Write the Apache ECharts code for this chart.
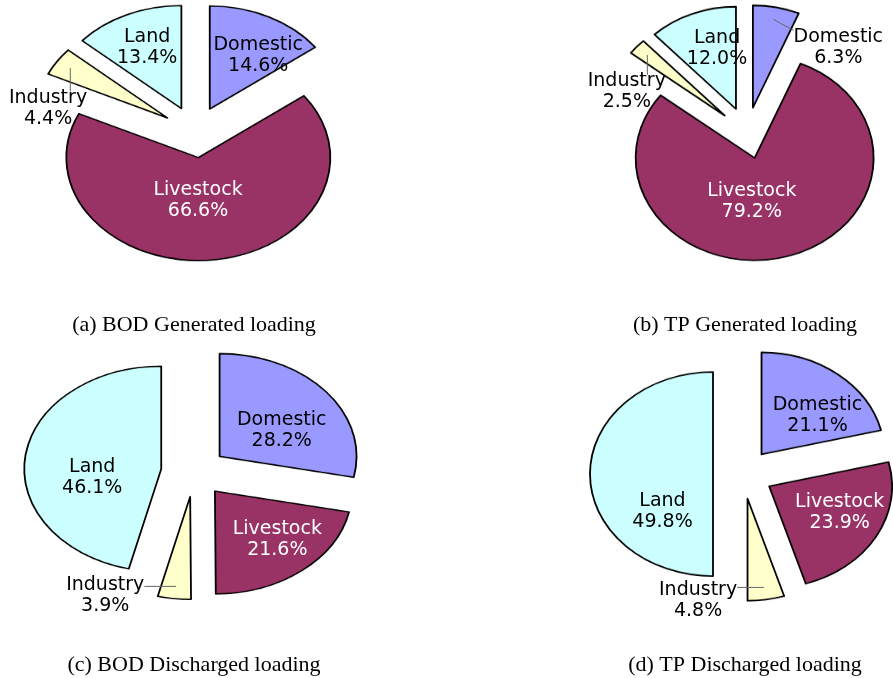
<!DOCTYPE html>
<html>
<head>
<meta charset="utf-8">
<script src="https://cdn.jsdelivr.net/npm/echarts@6/dist/echarts.min.js"></script>
<style>
    html, body { margin: 0; padding: 0; background: #fff; }
    #wrap { position: relative; width: 893px; height: 678px; overflow: hidden; }
    .slices { position: absolute; left: 0; top: 0; width: 893px; transform-origin: 0 0; }
    #labels { position: absolute; left: 0; top: 0; width: 893px; height: 678px; }
</style>
</head>
<body>
<div id="wrap"><div id="labels"></div></div>
<script>
const categories = ['Domestic', 'Livestock', 'Industry', 'Land'];
const bodGenerated = [14.6, 66.6, 4.4, 13.4];
const tpGenerated = [6.3, 79.2, 2.5, 12.0];
const bodDischarged = [28.2, 21.6, 3.9, 46.1];
const tpDischarged = [21.1, 23.9, 4.8, 49.8];
const captions = [
    '(a) BOD Generated loading',
    '(b) TP Generated loading',
    '(c) BOD Discharged loading',
    '(d) TP Discharged loading'
];

const colors = ['#9999ff', '#993366', '#ffffcc', '#ccffff'];
const labelColors = ['#000', '#fff', '#000', '#000'];

// the pies are flattened ellipses: k is the vertical squash, off the explode distance.
// nudge moves each label (same order as categories) from its computed spot to where the original put it
const pies = [
    { values: bodGenerated, cx: 195, cy: 132, r: 132, k: 0.78, off: 33, outside: ['Industry'], caption: [194, 325],
      nudge: [[19, -7], [-7, -8], [-9, 47], [-7, -14]] },
    { values: tpGenerated, cx: 747, cy: 133, r: 119, k: 0.86, off: 30, outside: ['Industry', 'Domestic'], caption: [745, 325],
      nudge: [[62, 40], [-18, -6], [-10, 45], [3, -13]] },
    { values: bodDischarged, cx: 194, cy: 472, r: 137, k: 0.75, off: 33, outside: ['Industry'], caption: [194, 665],
      nudge: [[9, 7], [19, 9], [-69, -3], [-1, 15]] },
    { values: tpDischarged, cx: 743, cy: 474, r: 123, k: 0.83, off: 30, outside: ['Industry'], caption: [745, 665],
      nudge: [[18, 1], [17, 1], [-68, 1], [11, 38]] }
];

let wrap = document.getElementById('wrap');

// slices: one chart per pie, stretched then squashed back with css
pies.forEach(function (pie) {
    let div = document.createElement('div');
    div.className = 'slices';
    div.style.height = (678 / pie.k) + 'px';
    div.style.transform = 'scaleY(' + pie.k + ')';
    wrap.insertBefore(div, document.getElementById('labels'));
    let chart = echarts.init(div);
    chart.setOption({
        animation: false,
        series: [{
            type: 'pie',
            silent: true,
            center: [pie.cx, pie.cy / pie.k],
            radius: pie.r,
            startAngle: 90,
            clockwise: true,
            selectedMode: 'multiple',
            selectedOffset: pie.off,
            label: { show: false },
            labelLine: { show: false },
            itemStyle: { borderColor: '#000', borderWidth: 1.8 },
            data: categories.map(function (name, i) {
                return { name: name, value: pie.values[i], selected: true, itemStyle: { color: colors[i] } };
            })
        }]
    });
});

// labels and captions on top, unsquashed text
function placeLabel(p) {
    let pie = pies[p.seriesIndex];
    let outside = pie.outside.indexOf(categories[p.dataIndex]) >= 0;
    let lr = p.labelRect;
    let px = lr.x + lr.width / 2;
    let py = lr.y + lr.height / 2;
    if (outside && p.labelLinePoints) {
        px = p.labelLinePoints[0][0];
        py = p.labelLinePoints[0][1];
    }
    let dx = px - pie.cx;
    let dy = py - pie.cy;
    let len = Math.sqrt(dx * dx + dy * dy) || 1;
    let at = function (rad) {
        return [pie.cx + dx / len * rad, pie.cy + dy / len * rad * pie.k];
    };
    let anchor = at(pie.off + (outside ? pie.r : pie.r / 2));
    let nudge = pie.nudge[p.dataIndex];
    let x = anchor[0] + nudge[0];
    let y = anchor[1] + nudge[1];
    let out = { x: x, y: y, align: 'center', verticalAlign: 'middle' };
    if (outside) {
        let start = at(pie.off + pie.r * 0.88);
        let ex = Math.min(Math.max(start[0], x - lr.width / 2), x + lr.width / 2);
        let ey = Math.min(Math.max(start[1], y - lr.height / 2 + 4), y + lr.height / 2);
        out.labelLinePoints = [start, [ex, ey], [ex, ey]];
    }
    return out;
}

let labelChart = echarts.init(document.getElementById('labels'));
labelChart.setOption({
    animation: false,
    graphic: pies.map(function (pie, i) {
        return {
            type: 'text',
            x: pie.caption[0],
            y: pie.caption[1],
            style: {
                text: captions[i],
                align: 'center',
                verticalAlign: 'middle',
                font: '22px "Liberation Serif", "Times New Roman", serif',
                fill: '#000'
            }
        };
    }),
    series: pies.map(function (pie) {
        return {
            type: 'pie',
            silent: true,
            center: [pie.cx, pie.cy],
            radius: pie.r,
            startAngle: 90,
            clockwise: true,
            avoidLabelOverlap: false,
            itemStyle: { color: 'rgba(0,0,0,0)', borderWidth: 0 },
            label: {
                fontFamily: 'DejaVu Sans',
                fontSize: 19,
                lineHeight: 21,
                overflow: 'none',
                bleedMargin: 0,
                formatter: function (p) {
                    return p.name + '\n' + p.value.toFixed(1) + '%';
                }
            },
            labelLine: { length: 8, length2: 6, lineStyle: { color: '#666', width: 1 } },
            labelLayout: placeLabel,
            data: categories.map(function (name, i) {
                let outside = pie.outside.indexOf(name) >= 0;
                return {
                    name: name,
                    value: pie.values[i],
                    label: { position: outside ? 'outside' : 'inside', color: labelColors[i] },
                    labelLine: { show: outside }
                };
            })
        };
    })
});
</script>
</body>
</html>
